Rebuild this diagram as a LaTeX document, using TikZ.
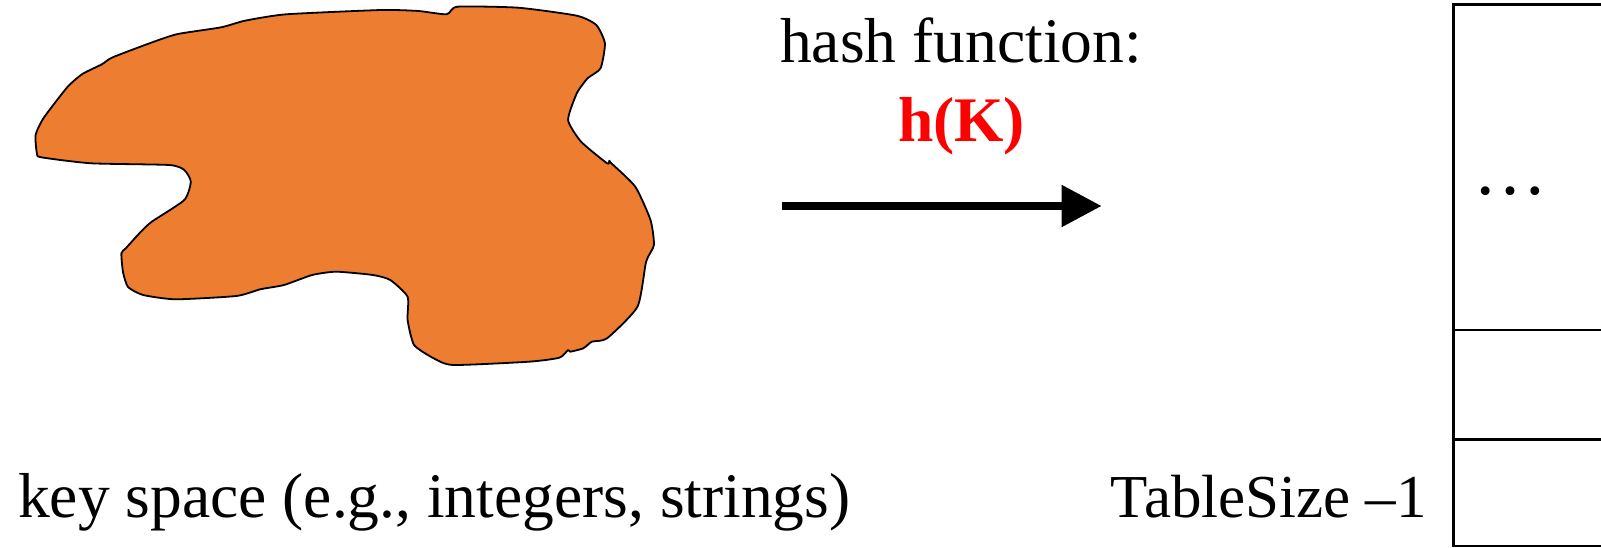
\documentclass[tikz,border=0pt]{standalone}
\usepackage{fontspec}
\setmainfont{Liberation Serif}
\usetikzlibrary{arrows.meta}
\definecolor{keyorange}{HTML}{ED7D31}
\definecolor{hashred}{HTML}{FF0000}
\tikzset{
  lbl/.style={inner sep=0pt, font=\fontsize{63.5}{76}\selectfont},
  blob/.style={draw=black, line width=1.8pt, fill=keyorange, line join=round},
  slot/.style={draw=black, line width=2.75pt},
  maparrow/.style={line width=8pt, -{Triangle[length=40pt,width=40pt]}}
}
\begin{document}
\begin{tikzpicture}[x=1pt, y=-1pt]
\useasboundingbox (0,0) rectangle (1601,548);

% key space
\draw[blob] plot[smooth cycle, tension=0.35] coordinates {
  (35.6,135) (36.9,153.3) (41.2,157.3) (91.1,163.3) (169.1,165) (184.3,170)
  (190.8,181.7) (184.3,200) (151.8,221.7) (140.9,231.7) (125.8,248.3)
  (121.4,253.3) (123,272) (128,287) (143.1,295) (175.6,299.3) (236.3,296)
  (260.2,289.3) (284,285) (312.2,275) (336.1,271.7) (372.9,275) (390.3,280)
  (407.6,296.7) (407.6,320) (414.1,345) (433.7,358.3) (453.2,365)
  (529,361.7) (559.4,357.7) (568.1,350) (570.2,351.7) (583.3,348.3)
  (591.9,341.7) (607.1,338.3) (637.5,306.7) (646.1,261.7) (653.9,245)
  (650.5,220) (635.3,186.7) (611.4,163.3) (609.3,160.7) (607.1,163.3)
  (581.1,141.7) (568.1,120) (576.8,93.3) (587.6,78.3) (600.6,68.3)
  (604.9,43.3) (596.3,25) (576.8,15.7) (518.2,7.7) (457.5,6.7)
  (446.7,14.3) (418.5,11) (381.6,10) (286.2,14.3) (245,20.7) (221.2,27.3)
  (177.8,34) (153.9,41.7) (112.7,57.3) (101.9,64.3) (82.4,74) (67.2,87.3)
  (43.4,118.3)
};
\node[lbl, anchor=base west] (keys) at (18,517) {key space (e.g., integers, strings)};

% hash function arrow
\node[lbl, anchor=base] (hashlbl) at (961,63) {hash function:};
\node[lbl, anchor=base, text=hashred, font=\fontsize{63.5}{76}\selectfont\bfseries] (hk) at (961.5,142) {h(K)};
\coordinate (arrS) at (781.7,206);
\coordinate (arrE) at (1101.7,206);
\draw[maparrow] (arrS) -- (arrE);

% hash table
\coordinate (tTL) at (1453.3,4.5);
\coordinate (tBL) at (1453.3,546);
\coordinate (tTR) at (1640,4.5);
\coordinate (tBR) at (1640,546);
\coordinate (r1L) at (1453.3,330);
\coordinate (r1R) at (1640,330);
\coordinate (r2L) at (1453.3,439.5);
\coordinate (r2R) at (1640,439.5);
\draw[slot] (tTR) -- (tTL) -- (tBL) -- (tBR);
\draw[slot] (r1L) -- (r1R);
\draw[slot] (r2L) -- (r2R);
\node[inner sep=0pt, anchor=base, font=\fontsize{74}{80}\selectfont] (dots) at (1510,195) {…};
\node[lbl, anchor=base east, font=\fontsize{61}{72}\selectfont] (last) at (1427,517) {TableSize –1};
\end{tikzpicture}
\end{document}
